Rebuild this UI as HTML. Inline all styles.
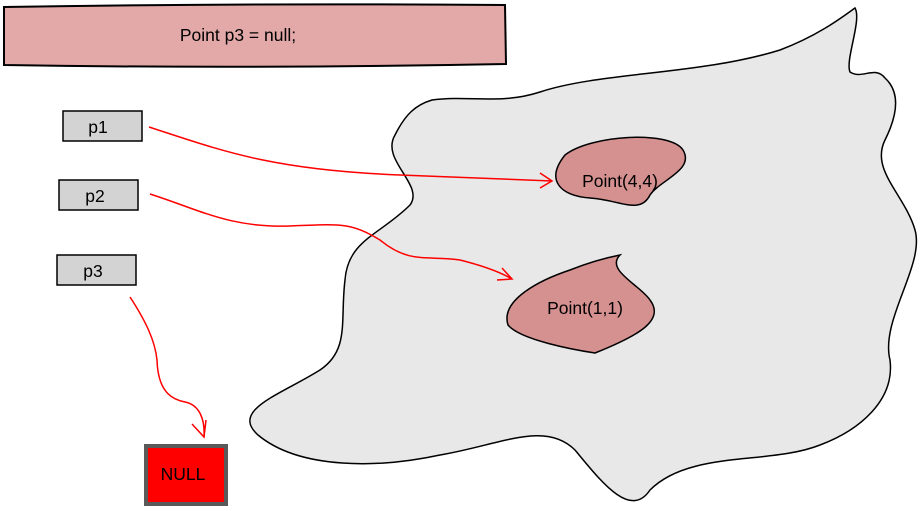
<!DOCTYPE html>
<html><head><meta charset="utf-8"><style>
html,body{margin:0;padding:0;background:#fff;}
svg{display:block;}
text{font-family:"Liberation Sans",sans-serif;font-size:17.5px;fill:#000;}
</style></head><body>
<svg width="921" height="511" viewBox="0 0 921 511" xmlns="http://www.w3.org/2000/svg">
<path d="M4,7 Q250,3 505,5 L506,64 Q250,69 4,65 Z" fill="#e3a8a8" stroke="#000" stroke-width="2"/>
<text x="238" y="41" text-anchor="middle">Point p3 = null;</text>

<path d="M432,100 C470,95 500,105 540,92 C600,72 700,75 780,50 C820,35 845,15 855,8 C862,20 845,60 850,72 C862,80 875,65 885,78 C898,90 900,110 885,140 C870,170 905,195 915,230 C925,265 880,320 890,360 C895,400 860,430 820,445 C770,465 690,450 650,490 C630,520 600,480 575,450 C545,420 500,445 440,455 C380,468 300,470 258,435 C230,410 280,395 320,370 C350,350 340,320 345,280 C348,240 380,235 410,205 C425,185 380,160 395,135 C405,115 415,105 432,100 Z" fill="#e8e8e8" stroke="#000" stroke-width="1.5"/>

<rect x="63" y="111" width="79" height="30" fill="#d3d3d3" stroke="#000" stroke-width="1.5"/>
<text x="98" y="133" text-anchor="middle">p1</text>
<rect x="59" y="180" width="79" height="30" fill="#d3d3d3" stroke="#000" stroke-width="1.5"/>
<text x="95" y="202" text-anchor="middle">p2</text>
<rect x="57" y="255" width="79" height="30" fill="#d3d3d3" stroke="#000" stroke-width="1.5"/>
<text x="93" y="277" text-anchor="middle">p3</text>

<path d="M565,155 C590,135 670,130 683,150 C695,170 660,180 650,195 C640,215 620,200 590,198 C560,196 545,180 565,155 Z" fill="#d59090" stroke="#000" stroke-width="1.5"/>
<text x="620" y="187" text-anchor="middle">Point(4,4)</text>
<path d="M620,255 C605,270 640,285 650,300 C665,320 640,335 595,353 C575,350 520,340 508,325 C500,300 540,280 570,270 C590,262 605,258 620,255 Z" fill="#d59090" stroke="#000" stroke-width="1.5"/>
<text x="585" y="314" text-anchor="middle">Point(1,1)</text>

<g fill="none" stroke="#f00" stroke-width="1.5">
<path d="M149,127 C220,150 270,170 400,175 C470,178 520,180 552,181"/>
<path d="M540,173 L552,181 L540,188"/>
<path d="M150,194 C200,210 230,228 290,226 C340,224 350,222 380,240 C410,265 430,255 460,260 C480,265 500,272 512,279"/>
<path d="M502,268 L512,279 L497,280"/>
<path d="M130,297 C145,320 155,340 157,360 C158,395 175,400 185,402 C200,405 205,420 204,437"/>
<path d="M192,424 L204,437 L206,420"/>
</g>

<rect x="146" y="446" width="80" height="58" fill="#f00" stroke="#5a5a5a" stroke-width="4"/>
<text x="183" y="480" text-anchor="middle">NULL</text>
</svg>
</body></html>
